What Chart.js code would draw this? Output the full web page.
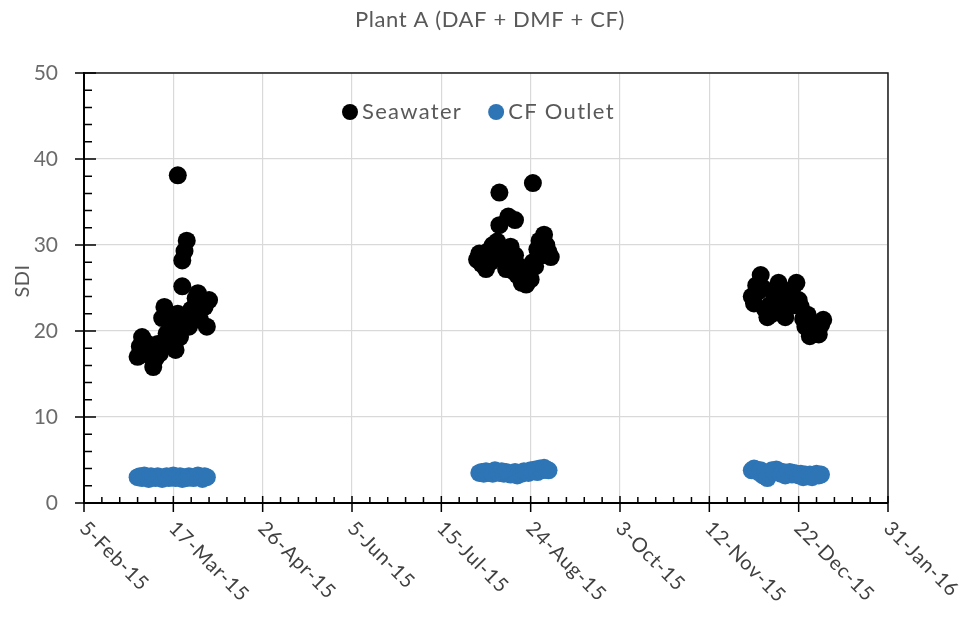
<!DOCTYPE html>
<html>
<head>
<meta charset="utf-8">
<script src="https://cdn.jsdelivr.net/npm/chart.js@4.4.1/dist/chart.umd.min.js"></script>
<style>
  html, body { margin: 0; padding: 0; background: #fff; }
  #wrap { width: 966px; height: 624px; }
</style>
</head>
<body>
<div id="wrap"><canvas id="c" width="966" height="624"></canvas></div>
<script>
// SDI of raw seawater and of the cartridge-filter outlet, Plant A
const seawaterDates = [
  '2015-03-01','2015-03-02','2015-03-03','2015-03-04','2015-03-05','2015-03-06','2015-03-07','2015-03-08',
  '2015-03-09','2015-03-10','2015-03-11','2015-03-12','2015-03-13','2015-03-14','2015-03-15','2015-03-16',
  '2015-03-17','2015-03-18','2015-03-19','2015-03-19','2015-03-20','2015-03-21','2015-03-21','2015-03-22',
  '2015-03-22','2015-03-23','2015-03-24','2015-03-25','2015-03-26','2015-03-27','2015-03-28','2015-03-29',
  '2015-03-30','2015-03-31','2015-04-01','2015-04-02',
  '2015-07-31','2015-08-01','2015-08-02','2015-08-03','2015-08-04','2015-08-05','2015-08-06','2015-08-07',
  '2015-08-08','2015-08-09','2015-08-10','2015-08-10','2015-08-11','2015-08-12','2015-08-13','2015-08-14',
  '2015-08-14','2015-08-15','2015-08-16','2015-08-17','2015-08-17','2015-08-18','2015-08-19','2015-08-20',
  '2015-08-21','2015-08-22','2015-08-23','2015-08-24','2015-08-25','2015-08-25','2015-08-26','2015-08-27',
  '2015-08-28','2015-08-29','2015-08-30','2015-08-31','2015-09-01','2015-09-02',
  '2015-12-01','2015-12-02','2015-12-03','2015-12-04','2015-12-05','2015-12-06','2015-12-07','2015-12-08',
  '2015-12-09','2015-12-10','2015-12-11','2015-12-12','2015-12-13','2015-12-14','2015-12-15','2015-12-16',
  '2015-12-17','2015-12-18','2015-12-19','2015-12-20','2015-12-21','2015-12-22','2015-12-23','2015-12-24',
  '2015-12-25','2015-12-26','2015-12-27','2015-12-28','2015-12-29','2015-12-30','2015-12-31','2016-01-01',
  '2016-01-02'
];
const seawaterSDI = [
  17.0, 18.2, 19.3, 18.0, 18.6, 17.2, 17.8, 15.8,
  16.8, 18.5, 17.4, 21.5, 22.8, 19.7, 22.0, 20.5,
  18.2, 17.8, 22.0, 38.1, 19.3, 25.2, 28.2, 29.3,
  21.0, 30.5, 20.5, 22.5, 22.0, 23.8, 24.4, 21.3,
  23.6, 22.8, 20.5, 23.6,
  28.3, 29.0, 27.8, 28.6, 27.2, 29.3, 28.0, 30.0,
  29.0, 30.4, 32.3, 36.1, 28.4, 29.5, 27.2, 33.3,
  28.0, 29.8, 27.0, 32.9, 28.8, 26.5, 27.5, 25.6,
  26.3, 25.4, 27.0, 26.0, 28.0, 37.2, 27.5, 29.5,
  30.5, 28.8, 31.2, 30.0, 29.2, 28.6,
  24.0, 23.2, 25.3, 24.6, 26.5, 25.0, 22.5, 21.6,
  23.0, 22.0, 24.2, 23.0, 25.6, 24.6, 22.5, 21.6,
  23.6, 24.2, 24.8, 23.0, 25.6, 23.6, 22.8, 21.4,
  20.5, 21.9, 19.4, 21.0, 19.9, 20.4, 19.6, 20.7,
  21.3
];

const outletDates = [
  '2015-03-01','2015-03-02','2015-03-03','2015-03-04','2015-03-05','2015-03-06','2015-03-07','2015-03-08',
  '2015-03-09','2015-03-10','2015-03-11','2015-03-12','2015-03-13','2015-03-14','2015-03-15','2015-03-16',
  '2015-03-17','2015-03-18','2015-03-19','2015-03-20','2015-03-21','2015-03-22','2015-03-23','2015-03-24',
  '2015-03-25','2015-03-26','2015-03-27','2015-03-28','2015-03-29','2015-03-30','2015-03-31','2015-04-01',
  '2015-08-01','2015-08-02','2015-08-03','2015-08-04','2015-08-05','2015-08-06','2015-08-07','2015-08-08',
  '2015-08-09','2015-08-10','2015-08-11','2015-08-12','2015-08-13','2015-08-14','2015-08-15','2015-08-16',
  '2015-08-17','2015-08-18','2015-08-19','2015-08-20','2015-08-21','2015-08-22','2015-08-23','2015-08-24',
  '2015-08-25','2015-08-26','2015-08-27','2015-08-28','2015-08-29','2015-08-30','2015-08-31','2015-09-01',
  '2015-12-01','2015-12-02','2015-12-03','2015-12-04','2015-12-05','2015-12-06','2015-12-07','2015-12-08',
  '2015-12-09','2015-12-10','2015-12-11','2015-12-12','2015-12-13','2015-12-14','2015-12-15','2015-12-16',
  '2015-12-17','2015-12-18','2015-12-19','2015-12-20','2015-12-21','2015-12-22','2015-12-23','2015-12-24',
  '2015-12-25','2015-12-26','2015-12-27','2015-12-28','2015-12-29','2015-12-30','2015-12-31','2016-01-01'
];
const outletSDI = [
  3.0, 3.1, 2.9, 3.2, 3.0, 2.8, 3.1, 3.0, 2.9, 3.1, 3.0, 2.8, 3.0, 3.1, 2.9, 3.0,
  3.2, 2.9, 3.0, 3.1, 2.8, 3.0, 2.9, 3.1, 3.0, 2.9, 3.0, 3.2, 3.0, 2.8, 3.1, 3.0,
  3.5, 3.6, 3.4, 3.7, 3.5, 3.6, 3.4, 3.8, 3.6, 3.5, 3.7, 3.4, 3.6, 3.5, 3.3, 3.4,
  3.6, 3.2, 3.5, 3.4, 3.7, 3.6, 3.5, 3.8, 3.7, 3.9, 3.6, 4.0, 3.8, 4.1, 3.9, 3.8,
  3.8, 4.0, 3.9, 3.6, 3.8, 3.2, 3.4, 2.9, 3.5, 3.8, 3.6, 3.9, 3.7, 3.4, 3.6, 3.2,
  3.5, 3.6, 3.3, 3.5, 3.4, 3.2, 3.4, 3.0, 3.3, 3.1, 3.3, 3.0, 3.2, 3.4, 3.2, 3.3
];

const chartTitle = 'Plant A (DAF + DMF + CF)';
const yAxisTitle = 'SDI';
const xTickLabels = ['5-Feb-15','17-Mar-15','26-Apr-15','5-Jun-15','15-Jul-15',
                     '24-Aug-15','3-Oct-15','12-Nov-15','22-Dec-15','31-Jan-16'];
const xTickStepDays = 40;
const yTickValues = [0, 10, 20, 30, 40, 50];

// dates are placed on a linear axis counted in days from 5-Feb-2015
const ORIGIN = Date.UTC(2015, 1, 5);
function dayOf(s) {
  const [yy, mm, dd] = s.split('-').map(Number);
  return (Date.UTC(yy, mm - 1, dd) - ORIGIN) / 86400000;
}
function toPoints(dates, values) {
  return dates.map((d, i) => ({ x: dayOf(d), y: values[i] }));
}

const FONT = 'Lato';

function spaced(ctx, px) {
  if ('letterSpacing' in ctx) ctx.letterSpacing = px + 'px';
}

// title, axis title, frame, inside tick marks, slanted date labels and the in-plot legend
const decor = {
  id: 'decor',
  afterDraw(chart) {
    const { ctx, chartArea: a, scales: { x, y } } = chart;
    ctx.save();

    ctx.font = '22px ' + FONT;
    spaced(ctx, 0.6);
    ctx.fillStyle = '#595959';
    ctx.textAlign = 'center';
    ctx.textBaseline = 'middle';
    ctx.fillText(chartTitle, 490, 20);

    ctx.save();
    ctx.font = '20px ' + FONT;
    spaced(ctx, 0.5);
    ctx.translate(23, a.top + (a.bottom - a.top) / 2 - 7);
    ctx.rotate(-Math.PI / 2);
    ctx.fillText(yAxisTitle, 0, 0);
    ctx.restore();

    ctx.strokeStyle = '#1a1a1a';
    ctx.lineWidth = 1.5;
    ctx.beginPath();
    ctx.moveTo(a.left, a.top);
    ctx.lineTo(a.right, a.top);
    ctx.lineTo(a.right, a.bottom);
    ctx.stroke();

    ctx.strokeStyle = '#000';
    ctx.lineWidth = 1.5;
    ctx.beginPath();
    const yMax = yTickValues[yTickValues.length - 1];
    for (let v = 0; v <= yMax; v += 2) {
      const py = y.getPixelForValue(v);
      const major = v % 10 === 0;
      ctx.moveTo(major ? a.left - 9 : a.left, py);
      ctx.lineTo(a.left + (major ? 12 : 8), py);
    }
    for (let d = 0; d <= x.max; d += xTickStepDays / 5) {
      const px = x.getPixelForValue(d);
      const major = d % xTickStepDays === 0;
      ctx.moveTo(px, a.bottom - (major ? 7 : 6));
      ctx.lineTo(px, a.bottom + (major ? 9 : 0));
    }
    ctx.stroke();

    ctx.font = '20px ' + FONT;
    spaced(ctx, 0.8);
    ctx.fillStyle = '#404040';
    ctx.textAlign = 'left';
    ctx.textBaseline = 'middle';
    xTickLabels.forEach((lab, i) => {
      const px = x.getPixelForValue(i * xTickStepDays);
      ctx.save();
      ctx.translate(px - 1, a.bottom + 22);
      ctx.rotate(Math.PI / 4);
      ctx.fillText(lab, 0, 0);
      ctx.restore();
    });

    ctx.font = '22px ' + FONT;
    spaced(ctx, 1.3);
    ctx.textBaseline = 'middle';
    let lx = a.left + 258;
    const ly = a.top + 39;
    chart.data.datasets.forEach(ds => {
      ctx.fillStyle = ds.backgroundColor;
      ctx.beginPath();
      ctx.arc(lx + 8, ly, 8, 0, Math.PI * 2);
      ctx.fill();
      ctx.fillStyle = '#595959';
      ctx.fillText(ds.label, lx + 20, ly);
      lx += 20 + ctx.measureText(ds.label).width + 26;
    });

    ctx.restore();
  }
};

function draw() {
  new Chart(document.getElementById('c'), {
    type: 'scatter',
    data: {
      datasets: [
        {
          label: 'Seawater',
          data: toPoints(seawaterDates, seawaterSDI),
          backgroundColor: '#000000',
          borderWidth: 0,
          pointRadius: 9,
          pointHoverRadius: 9
        },
        {
          label: 'CF Outlet',
          data: toPoints(outletDates, outletSDI),
          backgroundColor: '#2e75b6',
          borderWidth: 0,
          pointRadius: 9,
          pointHoverRadius: 9
        }
      ]
    },
    options: {
      responsive: false,
      animation: false,
      devicePixelRatio: 1,
      layout: { padding: { left: 0, right: 78, top: 73, bottom: 0 } },
      plugins: {
        legend: { display: false },
        tooltip: { enabled: false },
        title: { display: false }
      },
      scales: {
        x: {
          type: 'linear',
          min: 0,
          max: xTickStepDays * (xTickLabels.length - 1),
          ticks: { stepSize: xTickStepDays, display: false },
          grid: { color: '#d9d9d9', lineWidth: 1.2, drawTicks: false },
          border: { color: '#000', width: 2 },
          afterFit(s) { s.height = 121; }
        },
        y: {
          min: yTickValues[0],
          max: yTickValues[yTickValues.length - 1],
          afterBuildTicks(s) { s.ticks = yTickValues.map(v => ({ value: v })); },
          ticks: {
            color: '#6b6b6b',
            font: { family: FONT, size: 21 },
            padding: 26
          },
          grid: { color: '#d9d9d9', lineWidth: 1.2, drawTicks: false },
          border: { color: '#000', width: 2 },
          afterFit(s) { s.width = 84; }
        }
      }
    },
    plugins: [decor]
  });
}

Promise.all([
  document.fonts.load('20px ' + FONT),
  document.fonts.load('22px ' + FONT)
]).then(draw, draw);
</script>
</body>
</html>
